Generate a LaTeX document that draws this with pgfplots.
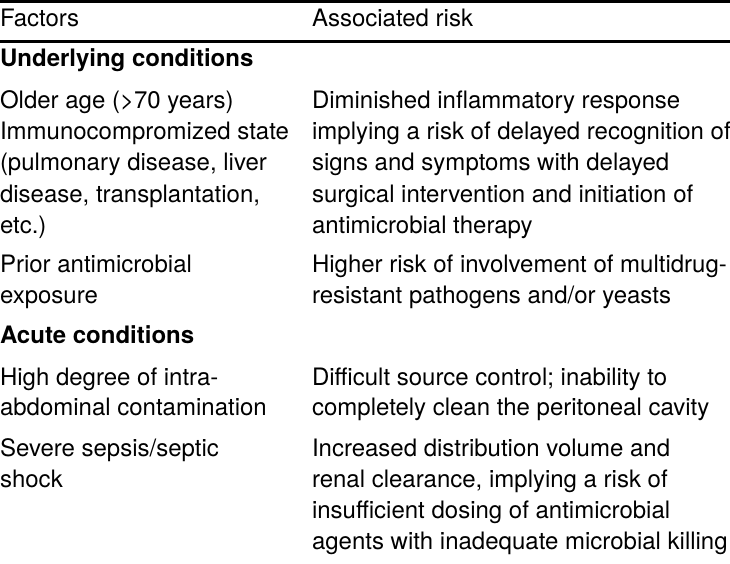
\documentclass[border=0pt]{standalone}
\usepackage{pgfplots}
\pgfplotsset{compat=1.18}
\usepackage{fontspec}
\setmainfont{TeX Gyre Heros}
\newcommand\T{\fontsize{24}{31.3}\selectfont}
\tikzset{cell/.style={inner sep=0pt, outer sep=0pt, anchor=base west, font=\T}}
\begin{document}
\begin{tikzpicture}
\begin{axis}[
  scale only axis, width=730pt, height=563pt,
  xmin=0, xmax=730, ymin=0, ymax=563, y dir=reverse,
  axis lines=none, clip=false,
]
% rules
\addplot[black, line width=2.6pt, forget plot] coordinates {(0,1.3) (730,1.3)};
\addplot[black, line width=2.6pt, forget plot] coordinates {(0,41.3) (730,41.3)};
% header
\node[cell] at (axis cs:0,26) {Factors};
\node[cell] at (axis cs:312,26) {Associated risk};
% left column
\node[cell] at (axis cs:0,66.7) {\bfseries Underlying conditions};
\node[cell] at (axis cs:0,108.3) {Older age (>70 years)};
\node[cell] at (axis cs:0,139.6) {Immunocompromized state};
\node[cell] at (axis cs:0,170.9) {(pulmonary disease, liver};
\node[cell] at (axis cs:0,202.2) {disease, transplantation,};
\node[cell] at (axis cs:0,233.5) {etc.)};
\node[cell] at (axis cs:0,272.7) {Prior antimicrobial};
\node[cell] at (axis cs:0,303.5) {exposure};
\node[cell] at (axis cs:0,343.3) {\bfseries Acute conditions};
\node[cell] at (axis cs:0,385) {High degree of intra-};
\node[cell] at (axis cs:0,415.5) {abdominal contamination};
\node[cell] at (axis cs:0,456.3) {Severe sepsis/septic};
\node[cell] at (axis cs:0,487) {shock};
% right column
\node[cell] at (axis cs:312,108.3) {Diminished inflammatory response};
\node[cell] at (axis cs:312,139.6) {implying a risk of delayed recognition of};
\node[cell] at (axis cs:312,170.9) {signs and symptoms with delayed};
\node[cell] at (axis cs:312,202.2) {surgical intervention and initiation of};
\node[cell] at (axis cs:312,233.5) {antimicrobial therapy};
\node[cell] at (axis cs:312,272.7) {Higher risk of involvement of multidrug-};
\node[cell] at (axis cs:312,303.5) {resistant pathogens and/or yeasts};
\node[cell] at (axis cs:312,385) {Difficult source control; inability to};
\node[cell] at (axis cs:312,415.5) {completely clean the peritoneal cavity};
\node[cell] at (axis cs:312,456.3) {Increased distribution volume and};
\node[cell] at (axis cs:312,487) {renal clearance, implying a risk of};
\node[cell] at (axis cs:312,518) {insufficient dosing of antimicrobial};
\node[cell] at (axis cs:312,549) {agents with inadequate microbial killing};
\end{axis}
\pgfresetboundingbox
\path (0,0) rectangle (730pt,563pt);
\end{tikzpicture}
\end{document}
